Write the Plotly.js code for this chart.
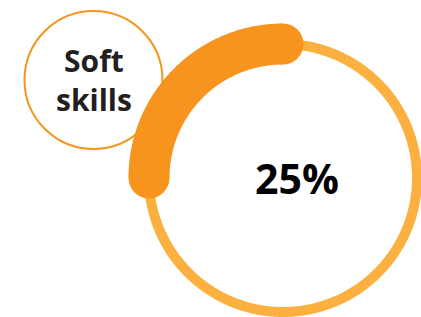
<!DOCTYPE html>
<html>
<head>
<meta charset="utf-8">
<script src="https://cdn.plot.ly/plotly-3.0.1.min.js"></script>
<style>
  html, body { margin: 0; padding: 0; background: #ffffff; }
  #chart { width: 421px; height: 317px; }
</style>
</head>
<body>
<div id="chart"></div>
<script>
// ---- data ----
const labelLines = ['Soft', 'skills'];
const percentValues = [25];
const totalValues = [100];

// ---- derived geometry (unit circle, from data) ----
const pct = percentValues[0] / totalValues[0];
const startAngle = 90;              // 12 o'clock
const sweep = 360 * pct;            // counterclockwise
const steps = Math.max(2, Math.round(sweep * 2));
const arcX = [], arcY = [];
for (let i = 0; i <= steps; i++) {
  const a = (startAngle + sweep * i / steps) * Math.PI / 180;
  arcX.push(Math.cos(a)); arcY.push(Math.sin(a));
}
const capSizes = arcX.map((_, i) => (i === 0 || i === arcX.length - 1) ? 41 : 0);

const ringX = [], ringY = [];
for (let i = 0; i <= 720; i++) {
  const a = i * 0.5 * Math.PI / 180;
  ringX.push(Math.cos(a)); ringY.push(Math.sin(a));
}

const W = 421, H = 317;
const cx = 283, cy = 178, R = 134;   // ring centre and radius in px

const traces = [
  {
    type: 'scatter', mode: 'lines',
    x: ringX, y: ringY,
    line: { color: '#FBB040', width: 10, simplify: false },
    hoverinfo: 'skip'
  },
  {
    type: 'scatter', mode: 'lines+markers',
    x: arcX, y: arcY,
    line: { color: '#F7941D', width: 41, simplify: false },
    marker: { color: '#F7941D', size: capSizes, opacity: 1, line: { width: 0 } },
    cliponaxis: false, hoverinfo: 'skip'
  }
];

const sc = { x0: 24.5, x1: 162.5, y0: 11, y1: 149 };

const layout = {
  width: W, height: H,
  margin: { l: 0, r: 0, t: 0, b: 0, pad: 0 },
  paper_bgcolor: '#ffffff',
  plot_bgcolor: 'rgba(0,0,0,0)',
  showlegend: false,
  xaxis: { range: [-cx / R, (W - cx) / R], visible: false, showgrid: false, zeroline: false, fixedrange: true },
  yaxis: { range: [(cy - H) / R, cy / R], visible: false, showgrid: false, zeroline: false, fixedrange: true },
  shapes: [
    {
      type: 'circle', xref: 'paper', yref: 'paper', layer: 'below',
      x0: sc.x0 / W, x1: sc.x1 / W, y0: 1 - sc.y1 / H, y1: 1 - sc.y0 / H,
      fillcolor: '#ffffff', line: { color: '#F7941D', width: 2 }
    }
  ],
  annotations: [
    {
      xref: 'paper', yref: 'paper', x: 93.5 / W, y: 1 - 80 / H,
      xanchor: 'center', yanchor: 'middle', showarrow: false,
      text: labelLines.join('<br>'),
      font: { family: 'Open Sans', size: 30, weight: 700, color: '#231F20' }
    },
    {
      xref: 'paper', yref: 'paper', x: 297 / W, y: 1 - 178 / H,
      xanchor: 'center', yanchor: 'middle', showarrow: false,
      text: percentValues[0] + '%',
      font: { family: 'Open Sans', size: 41, weight: 700, color: '#000000' }
    }
  ]
};

Plotly.newPlot('chart', traces, layout, { staticPlot: true, displayModeBar: false });
</script>
</body>
</html>
